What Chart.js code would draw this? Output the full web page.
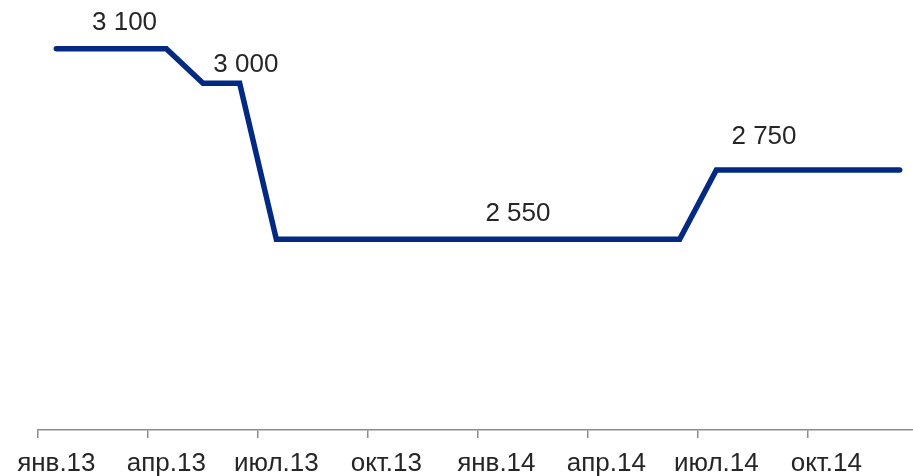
<!DOCTYPE html>
<html lang="ru">
<head>
    <meta charset="UTF-8">
    <title>Ставка</title>
    <script src="https://cdn.jsdelivr.net/npm/chart.js"></script>
    <style>
        html, body { margin: 0; padding: 0; overflow: hidden; background: #fff; }
        #chart { display: block; }
    </style>
</head>
<body>
    <canvas id="chart" width="920" height="476"></canvas>

    <script>
        // monthly categories, jan 2013 .. dec 2014
        const months = ['янв.', 'фев.', 'мар.', 'апр.', 'май.', 'июн.', 'июл.', 'авг.', 'сен.', 'окт.', 'ноя.', 'дек.'];
        const categories = [
            ...months.map(m => m + '13'),
            ...months.map(m => m + '14')
        ];

        const values = [
            3100, 3100, 3100, 3100, 3000, 3000, 2550, 2550, 2550, 2550, 2550, 2550,
            2550, 2550, 2550, 2550, 2550, 2550, 2750, 2750, 2750, 2750, 2750, 2750
        ];

        // value labels: where along the axis (category index) and how far above the line
        const labelValues = [3100, 3000, 2550, 2750];
        const labelAt = [1.86, 5.17, 12.59, 19.3];
        const labelRise = [27, 20, 27, 34];

        const fmt = v => String(v).replace(/\B(?=(\d{3})+(?!\d))/g, ' ');

        const valueLabels = {
            id: 'valueLabels',
            afterDatasetsDraw(chart) {
                const ctx = chart.ctx;
                const x = chart.scales.x, y = chart.scales.y;
                ctx.save();
                ctx.font = '26px "Liberation Sans", Arial, sans-serif';
                ctx.fillStyle = '#262626';
                ctx.textAlign = 'center';
                ctx.textBaseline = 'middle';
                labelValues.forEach((v, i) => {
                    ctx.fillText(fmt(v), x.getPixelForValue(labelAt[i]), y.getPixelForValue(v) - labelRise[i] + 1);
                });
                ctx.restore();
            }
        };

        const ctx = document.getElementById('chart').getContext('2d');
        new Chart(ctx, {
            type: 'line',
            data: {
                labels: categories,
                datasets: [{
                    data: values,
                    borderColor: '#022a82',
                    borderWidth: 5.5,
                    borderCapStyle: 'round',
                    borderJoinStyle: 'miter',
                    pointRadius: 0,
                    tension: 0,
                    fill: false
                }]
            },
            options: {
                responsive: false,
                animation: false,
                layout: { padding: { top: 14, left: 38, right: 2, bottom: 0 } },
                plugins: { legend: { display: false }, tooltip: { enabled: false } },
                scales: {
                    y: { display: false, min: 2000, max: 3200 },
                    x: {
                        offset: true,
                        afterFit: s => { s.height = 46; },
                        border: { display: true, color: '#8c8c8c', width: 1.5 },
                        grid: {
                            offset: true,
                            drawOnChartArea: false,
                            drawTicks: true,
                            tickLength: 8,
                            lineWidth: 1.5,
                            color: c => (c.index % 3 === 0 ? '#8c8c8c' : 'rgba(0,0,0,0)')
                        },
                        ticks: {
                            autoSkip: false,
                            maxRotation: 0,
                            padding: 10,
                            color: '#262626',
                            font: { family: '"Liberation Sans", Arial, sans-serif', size: 26 },
                            callback: (v, i) => (i % 3 === 0 ? categories[i] : '')
                        }
                    }
                }
            },
            plugins: [valueLabels]
        });
    </script>
</body>
</html>
